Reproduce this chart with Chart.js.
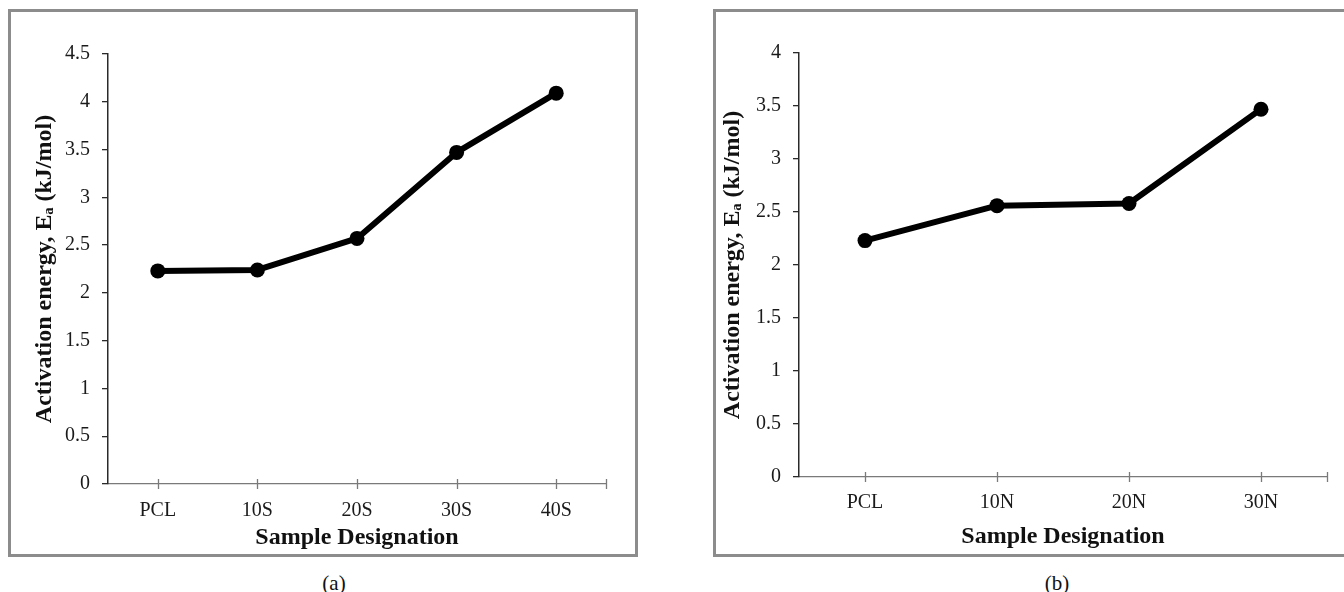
<!DOCTYPE html>
<html>
<head>
<meta charset="utf-8">
<title>Activation energy</title>
<script src="https://cdn.jsdelivr.net/npm/chart.js@4.4.1/dist/chart.umd.min.js"></script>
<style>
  html, body {
    margin: 0;
    padding: 0;
    width: 1344px;
    height: 592px;
    overflow: hidden;
    background: #ffffff;
    position: relative;
    font-family: "Liberation Serif", "Times New Roman", serif;
  }
  .panel {
    position: absolute;
    border: 3px solid #8c8c8c;
    overflow: hidden;
    background: #ffffff;
  }
  #panel-a { left: 8px; top: 9px; width: 624px; height: 542px; }
  #panel-b { left: 713px; top: 9px; width: 640px; height: 542px; }
  .panel canvas { position: absolute; left: 0; top: 0; }
  .caption {
    position: absolute;
    top: 571px;
    font-size: 21px;
    line-height: 24px;
    color: #111;
    transform: translateX(-50%);
  }
</style>
</head>
<body>
<div class="panel" id="panel-a"><canvas id="chart-a" width="624" height="542"></canvas></div>
<div class="panel" id="panel-b"><canvas id="chart-b" width="628" height="542"></canvas></div>
<div class="caption" style="left:334px">(a)</div>
<div class="caption" style="left:1057px">(b)</div>

<script>
// Data
const labelsA = ["PCL", "10S", "20S", "30S", "40S"];
const valuesA = [2.23, 2.24, 2.57, 3.47, 4.09];

const labelsB = ["PCL", "10N", "20N", "30N"];
const valuesB = [2.23, 2.56, 2.58, 3.47];

const yMaxA = 4.5;
const yMaxB = 4;
const yStep = 0.5;

const yTitle = "Activation energy, E\u2090 (kJ/mol)";
const xTitle = "Sample Designation";

const FONT = "'Liberation Serif', 'Times New Roman', serif";

// Excel-style tick marks crossing the category axis, plus one at the axis end
const xTickMarks = {
    id: "xTickMarks",
    beforeDatasetsDraw(chart) {
        const xScale = chart.scales.x;
        const area = chart.chartArea;
        const c = chart.ctx;
        const positions = chart.data.labels.map((_, i) => xScale.getPixelForValue(i));
        positions.push(area.right);
        c.save();
        c.strokeStyle = "#7a7a7a";
        c.lineWidth = 1.3;
        positions.forEach(px => {
            const x = Math.round(px) + 0.5;
            c.beginPath();
            c.moveTo(x, area.bottom - 5);
            c.lineTo(x, area.bottom + 5);
            c.stroke();
        });
        c.restore();
    }
};

function makeChart(canvasId, labels, values, yMax, box) {
    const canvas = document.getElementById(canvasId);
    if (!canvas) {
        console.error("Canvas not found: " + canvasId);
        return null;
    }
    const ctx = canvas.getContext("2d");

    return new Chart(ctx, {
        type: "line",
        data: {
            labels: labels,
            datasets: [
                {
                    label: "Ea",
                    data: values,
                    borderColor: "#000000",
                    backgroundColor: "#000000",
                    borderWidth: 6,
                    tension: 0,
                    fill: false,
                    pointStyle: "circle",
                    pointRadius: 7.5,
                    pointBorderWidth: 0,
                    pointBackgroundColor: "#000000",
                    borderCapStyle: "round",
                    borderJoinStyle: "round"
                }
            ]
        },
        options: {
            responsive: false,
            animation: false,
            devicePixelRatio: 1,
            layout: {
                padding: { left: 0, top: box.padTop, right: box.padRight, bottom: 0 }
            },
            plugins: {
                legend: { display: false },
                tooltip: { enabled: false }
            },
            scales: {
                x: {
                    type: "category",
                    offset: true,
                    grid: { display: false, drawTicks: false, tickLength: 0 },
                    border: { display: true, color: "#7a7a7a", width: 1.3 },
                    ticks: {
                        color: "#1a1a1a",
                        padding: box.xTickPad,
                        font: { family: FONT, size: 20, lineHeight: 1.2 },
                        maxRotation: 0,
                        autoSkip: false
                    },
                    title: {
                        display: true,
                        text: xTitle,
                        color: "#111111",
                        padding: { top: 0, bottom: box.xTitlePad },
                        font: { family: FONT, size: 24, weight: "bold", lineHeight: 1.2 }
                    },
                    afterFit(scale) {
                        scale.height = box.xHeight;
                    }
                },
                y: {
                    min: 0,
                    max: yMax,
                    grid: {
                        display: true,
                        drawOnChartArea: false,
                        drawTicks: true,
                        tickLength: 6,
                        color: "#2a2a2a",
                        lineWidth: 1.3
                    },
                    border: { display: true, color: "#2a2a2a", width: 1.5 },
                    ticks: {
                        stepSize: yStep,
                        color: "#1a1a1a",
                        padding: 12,
                        font: { family: FONT, size: 20, lineHeight: 1.2 },
                        callback: value => String(value)
                    },
                    title: {
                        display: true,
                        text: yTitle,
                        color: "#111111",
                        padding: { top: box.yTitlePad, bottom: 0 },
                        font: { family: FONT, size: 24, weight: "bold", lineHeight: 1.2 }
                    },
                    afterFit(scale) {
                        scale.width = box.yWidth;
                    }
                }
            }
        },
        plugins: [xTickMarks]
    });
}

makeChart("chart-a", labelsA, valuesA, yMaxA, {
    padTop: 42, padRight: 29, yWidth: 97, xHeight: 70,
    xTickPad: 15, xTitlePad: 2, yTitlePad: 19
});

makeChart("chart-b", labelsB, valuesB, yMaxB, {
    padTop: 41, padRight: 17, yWidth: 83, xHeight: 77,
    xTickPad: 14, xTitlePad: 3, yTitlePad: 2
});
</script>
</body>
</html>
